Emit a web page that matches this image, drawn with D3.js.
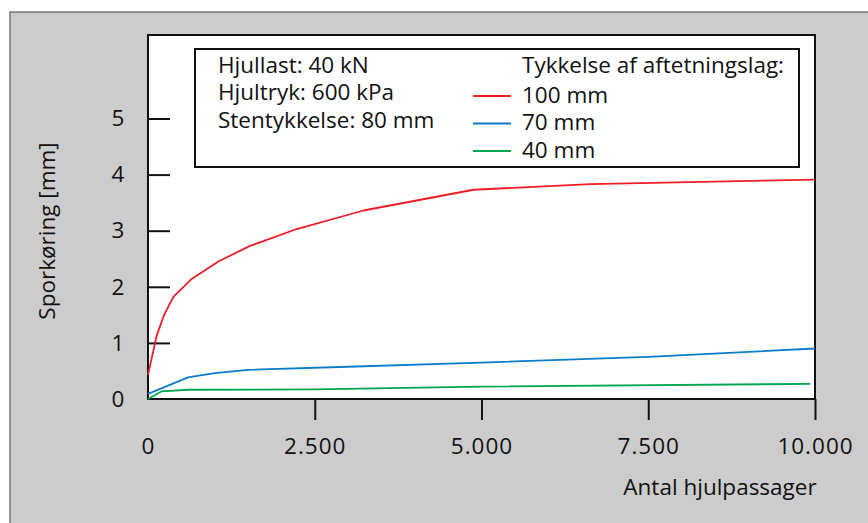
<!DOCTYPE html>
<html><head><meta charset="utf-8">
<script src="https://cdn.jsdelivr.net/npm/d3@7"></script>
<style>body{margin:0;background:#fff;}svg{display:block;font-family:"Open Sans",sans-serif;}</style>
</head><body><svg id="c" width="868" height="523"></svg>
<script>
const xTicks = [0, 2500, 5000, 7500, 10000];
const xTickLabels = ["0", "2.500", "5.000", "7.500", "10.000"];
const yTicks = [0, 1, 2, 3, 4, 5];
const n100 = [0, 130, 245, 380, 655, 1055, 1530, 2230, 3230, 4880, 6630, 10000];
const v100 = [0.43, 1.13, 1.51, 1.82, 2.14, 2.45, 2.73, 3.03, 3.36, 3.73, 3.83, 3.91];
const n70 = [0, 600, 1000, 1500, 3000, 5000, 7500, 10000];
const v70 = [0.09, 0.385, 0.46, 0.52, 0.575, 0.65, 0.75, 0.90];
const n40 = [0, 200, 600, 2500, 5000, 9930];
const v40 = [0, 0.135, 0.165, 0.17, 0.22, 0.27];
const seriesNames = ["100 mm", "70 mm", "40 mm"];
const seriesColors = ["#ee1c25", "#0a7dc9", "#00a651"];
const infoLines = ["Hjullast: 40 kN", "Hjultryk: 600 kPa", "Stentykkelse: 80 mm"];
const legendTitle = "Tykkelse af aftetningslag:";
const xTitle = "Antal hjulpassager";
const yTitle = "Sporkøring [mm]";

const FS = 22.5;
const svg = d3.select("#c");
const L = 148, R = 815, T = 35, B = 399;
const x = d3.scaleLinear().domain([0, 10000]).range([L, R]);
const y = d3.scaleLinear().domain([0, 5]).range([B, B - 5 * 56.1]);

// outer panel
svg.append("rect").attr("x", 10).attr("y", 12).attr("width", 880).attr("height", 530)
  .attr("fill", "#cccccc").attr("stroke", "#777").attr("stroke-width", 1.5);
// plot area
svg.append("rect").attr("x", L).attr("y", T).attr("width", R - L).attr("height", B - T)
  .attr("fill", "#fff").attr("stroke", "#111").attr("stroke-width", 2);

// axes
const xAxis = d3.axisBottom(x).tickValues(xTicks).tickSize(21)
  .tickFormat((d, i) => xTickLabels[i]);
const gx = svg.append("g").attr("transform", `translate(0,${B})`).call(xAxis);
gx.select(".domain").remove();
gx.selectAll(".tick line").attr("stroke", "#111").attr("stroke-width", 2)
  .filter(d => d === 0).remove();
gx.selectAll(".tick text").attr("y", 47).attr("dy", "0.35em").attr("font-size", FS).attr("fill", "#111")
  .attr("letter-spacing", 1).attr("font-family", "'Open Sans',sans-serif");

const yAxis = d3.axisRight(y).tickValues(yTicks).tickSize(22).tickFormat(d3.format("d"));
const gy = svg.append("g").attr("transform", `translate(${L},0)`).call(yAxis);
gy.select(".domain").remove();
gy.selectAll(".tick line").attr("stroke", "#111").attr("stroke-width", 2)
  .filter(d => d === 0).remove();
gy.selectAll(".tick text").attr("x", -30).attr("text-anchor", "middle")
  .attr("font-size", FS).attr("fill", "#111").attr("font-family", "'Open Sans',sans-serif");

// lines
const series = [[n100, v100], [n70, v70], [n40, v40]];
const line = d3.line().x(d => x(d[0])).y(d => y(d[1]));
series.forEach((s, i) => {
  const pts = s[0].map((n, j) => [n, s[1][j]]);
  svg.append("path").datum(pts).attr("d", line).attr("fill", "none")
    .attr("stroke", seriesColors[i]).attr("stroke-width", 1.8).attr("stroke-linejoin", "round");
});

// legend box
svg.append("rect").attr("x", 195).attr("y", 49).attr("width", 604).attr("height", 118)
  .attr("fill", "#fff").attr("stroke", "#111").attr("stroke-width", 2);
infoLines.forEach((t, i) => {
  svg.append("text").attr("x", 218).attr("y", 65 + i * 27.5).attr("dy", "0.35em")
    .attr("font-size", FS).attr("fill", "#111").text(t);
});
svg.append("text").attr("x", 522).attr("y", 65).attr("dy", "0.35em")
  .attr("font-size", FS).attr("fill", "#111").text(legendTitle);
seriesNames.forEach((t, i) => {
  const yy = 95 + i * 27.5;
  svg.append("line").attr("x1", 473).attr("x2", 511).attr("y1", yy + 1).attr("y2", yy + 1)
    .attr("stroke", seriesColors[i]).attr("stroke-width", 1.8);
  svg.append("text").attr("x", 522).attr("y", yy).attr("dy", "0.35em")
    .attr("font-size", FS).attr("fill", "#111").text(t);
});

// titles
svg.append("text").attr("x", 720).attr("y", 487).attr("dy", "0.35em").attr("text-anchor", "middle")
  .attr("font-size", FS).attr("fill", "#111").text(xTitle);
svg.append("text").attr("transform", "translate(47,231) rotate(-90)").attr("dy", "0.35em")
  .attr("text-anchor", "middle").attr("font-size", FS).attr("fill", "#111").text(yTitle);
</script></body></html>
